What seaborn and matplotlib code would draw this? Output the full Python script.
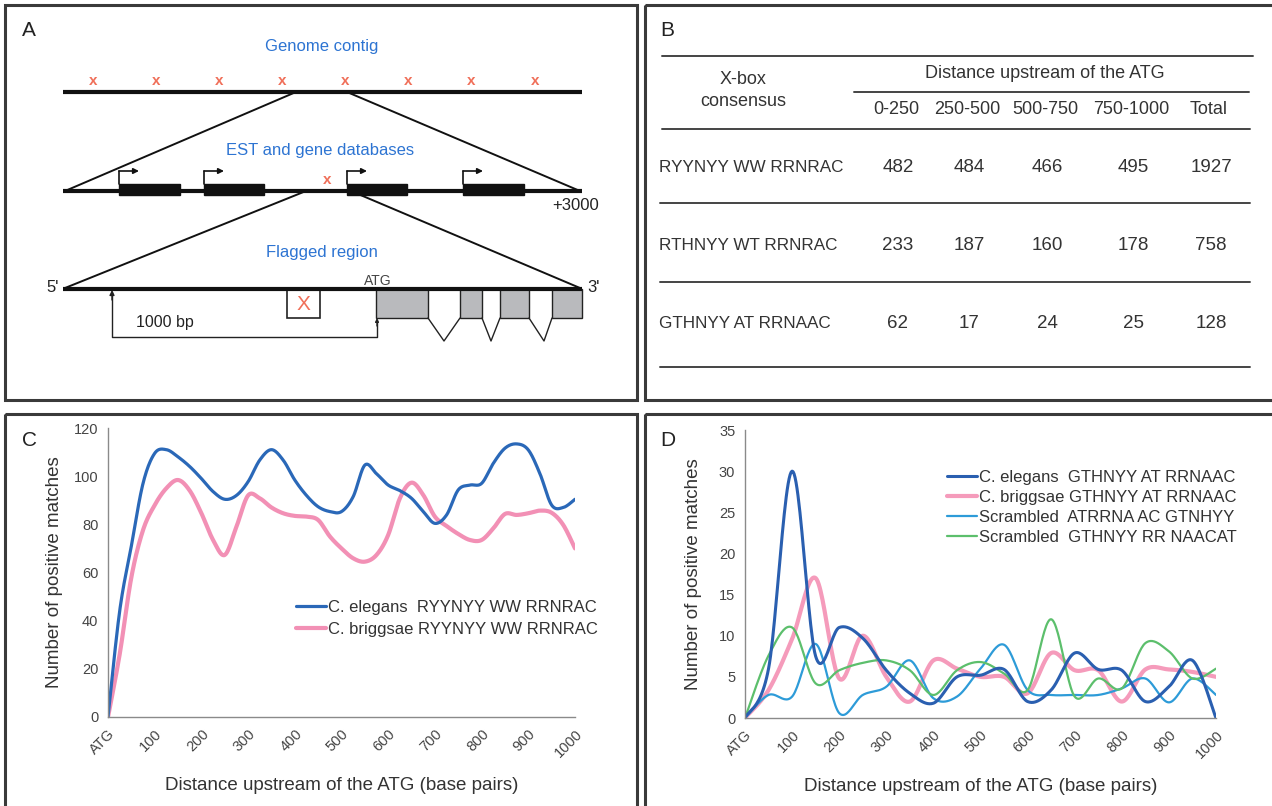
import numpy as np
import pandas as pd
import matplotlib
matplotlib.use("Agg")
import matplotlib.pyplot as plt
from matplotlib.patches import Rectangle
import seaborn as sns

# ---------------- data ----------------
# Panel B table
table_cols = ["0-250", "250-500", "500-750", "750-1000", "Total"]
table_rows = ["RYYNYY WW RRNRAC", "RTHNYY WT RRNRAC", "GTHNYY AT RRNAAC"]
row1_vals = [482, 484, 466, 495, 1927]
row2_vals = [233, 187, 160, 178, 758]
row3_vals = [62, 17, 24, 25, 128]

# Panel C (25 bp steps, 0..1000)
c_x = list(range(0, 1001, 25))
c_elegans_rr = [0, 44, 71, 97, 109.5, 111, 108, 104, 99, 93.6, 90.4, 92, 97.7, 106.7, 111,
                106.7, 98.4, 92, 87.3, 85.3, 85.3, 91.5, 104.6, 101, 96.3, 94, 90.8, 85.3,
                80.4, 83.9, 94.3, 96.3, 97, 105.3, 111.6, 113.4, 110.9, 101, 88, 87, 90.4]
c_briggsae_rr = [0, 26, 58, 77.6, 88, 95, 98.4, 94, 84.6, 73.5, 67.3, 79, 92, 90.8, 87,
                 84.6, 83.5, 83.2, 81.8, 75, 70, 65.9, 64.5, 67.3, 75.6, 90.8, 97.3, 92.2,
                 83.2, 79.3, 76, 73.5, 73.5, 78.3, 84.3, 83.9, 84.6, 85.7, 84.8, 79.7, 70]
c_labels = ["C. elegans  RYYNYY WW RRNRAC", "C. briggsae RYYNYY WW RRNRAC"]

# Panel D (50 bp steps, 0..1000)
d_x = list(range(0, 1001, 50))
d_elegans_gt = [0, 6, 30, 7.5, 11, 9.7, 5.8, 3, 1.8, 5, 5.2, 5.9, 2, 3.4, 7.9, 5.9, 5.8, 2,
                3.8, 7, 0]
d_briggsae_gt = [0, 3.4, 9.6, 17, 4.8, 10, 5, 2, 7, 6, 5, 5, 3, 7.9, 5.8, 5.8, 2, 5.9, 5.9,
                 5.6, 5]
d_scr1 = [0, 2.8, 2.6, 9, 0.6, 2.8, 3.8, 7, 2.4, 2.6, 6, 8.9, 3.4, 2.8, 2.8, 2.8, 3.6, 4.8,
          1.9, 4.8, 2.8]
d_scr2 = [0, 7.6, 11, 4.2, 5.8, 6.7, 7, 5.8, 2.8, 5.8, 6.8, 5.4, 3.4, 12, 2.6, 4.8, 3.6, 9.1,
          8.1, 4.8, 6]
d_labels = ["C. elegans  GTHNYY AT RRNAAC", "C. briggsae GTHNYY AT RRNAAC",
            "Scrambled  ATRRNA AC GTNHYY", "Scrambled  GTHNYY RR NAACAT"]

tick_vals = list(range(0, 1001, 50))
tick_text = ["ATG" if v == 0 else (str(v) if v % 100 == 0 else "") for v in tick_vals]

# ---------------- style ----------------
sns.set_theme(style="white")
plt.rcParams["font.family"] = ["Liberation Sans", "DejaVu Sans"]

W, H = 1272, 806
fig = plt.figure(figsize=(W / 100, H / 100), dpi=100)
fig.patch.set_facecolor("white")

ov = fig.add_axes([0, 0, 1, 1])
ov.set_xlim(0, W)
ov.set_ylim(H, 0)
ov.axis("off")

frame_col = "#3a3a3a"
for (x0, y0, x1, y1) in [(5, 5, 637, 400), (645, 5, 1290, 400), (5, 414, 637, 830), (645, 414, 1290, 830)]:
    ov.add_patch(Rectangle((x0, y0), x1 - x0, y1 - y0, fill=False, lw=2.2, ec=frame_col))

for lab, (x, y) in zip("ABCD", [(22, 31), (660, 31), (22, 440), (660, 440)]):
    ov.text(x, y, lab, fontsize=15, ha="left", va="center", color="#222")

# ---------------- Panel A diagram ----------------
blue_txt = "#2d74d2"
red_x = "#f0705a"
ov.text(322, 47, "Genome contig", color=blue_txt, fontsize=12, ha="center", va="center")
for xx in [93, 156, 219, 282, 345, 408, 471, 535]:
    ov.text(xx, 81, "x", color=red_x, fontsize=11, ha="center", va="center", fontweight="bold")
ov.plot([63, 582], [92, 92], color="#111", lw=3, solid_capstyle="butt")
ov.plot([296, 65], [92, 191], color="#111", lw=1.4)
ov.plot([347, 580], [92, 191], color="#111", lw=1.4)

ov.text(320, 151, "EST and gene databases", color=blue_txt, fontsize=12, ha="center", va="center")
ov.plot([63, 582], [191, 191], color="#111", lw=3, solid_capstyle="butt")
for (a, b) in [(119, 180), (204, 264), (347, 407), (463, 524)]:
    ov.add_patch(Rectangle((a, 184), b - a, 11, color="#111"))
    ov.plot([a, a], [184, 171], color="#111", lw=1.2)
    ov.annotate("", xy=(a + 20, 171), xytext=(a, 171),
                arrowprops=dict(arrowstyle="-|>", color="#111", lw=1.2, mutation_scale=8,
                                shrinkA=0, shrinkB=0))
ov.text(327, 180, "x", color=red_x, fontsize=11, ha="center", va="center", fontweight="bold")
ov.text(576, 205, "+3000", color="#222", fontsize=12, ha="center", va="center")
ov.plot([306, 65], [191, 288], color="#111", lw=1.4)
ov.plot([351, 580], [191, 288], color="#111", lw=1.4)

ov.text(322, 252, "Flagged region", color=blue_txt, fontsize=12, ha="center", va="center")
ov.text(53, 287, "5'", color="#222", fontsize=12, ha="center", va="center")
ov.text(593, 287, "3'", color="#222", fontsize=12, ha="center", va="center")
ov.text(378, 281, "ATG", color="#444", fontsize=10, ha="center", va="center")
for (a, b) in [(376, 428), (460, 482), (500, 529), (552, 582)]:
    ov.add_patch(Rectangle((a, 289), b - a, 29, fc="#b9babd", ec="#222", lw=1.0))
for (a, m, b) in [(428, 444, 460), (482, 491, 500), (529, 544, 552)]:
    ov.plot([a, m, b], [318, 341, 318], color="#222", lw=1.0)
ov.plot([63, 582], [289, 289], color="#111", lw=3, solid_capstyle="butt")
ov.add_patch(Rectangle((287, 290), 33, 28, fill=False, ec="#222", lw=1.2))
ov.text(303, 304, "X", color=red_x, fontsize=15, ha="center", va="center")
ov.plot([112, 112, 377, 377], [292, 337, 337, 320], color="#222", lw=1.0)
ov.annotate("", xy=(112, 290), xytext=(112, 300),
            arrowprops=dict(arrowstyle="-|>", color="#222", lw=1.0, mutation_scale=7,
                            shrinkA=0, shrinkB=0))
ov.annotate("", xy=(377, 318), xytext=(377, 326),
            arrowprops=dict(arrowstyle="-|>", color="#222", lw=1.0, mutation_scale=5,
                            shrinkA=0, shrinkB=0))
ov.text(165, 323, "1000 bp", color="#222", fontsize=11.5, ha="center", va="center")

# ---------------- Panel B table ----------------
tcol = "#333"
line_col = "#444"
ov.plot([662, 1253], [56, 56], color=line_col, lw=1.4)
ov.text(743, 79, "X-box", fontsize=13, ha="center", va="center", color=tcol)
ov.text(743, 101, "consensus", fontsize=13, ha="center", va="center", color=tcol)
ov.text(1045, 74, "Distance upstream of the ATG", fontsize=13, ha="center", va="center", color=tcol)
ov.plot([854, 1249], [92, 92], color=line_col, lw=1.4)
col_x = [896, 967, 1045, 1131, 1209]
for cx, ct in zip(col_x, table_cols):
    ov.text(cx, 109, ct, fontsize=13, ha="center", va="center", color=tcol)
ov.plot([662, 1250], [129, 129], color=line_col, lw=1.4)
row_y = [168, 245, 324]
line_y = [203, 282, 367]
for ry, ly, rl, vals in zip(row_y, line_y, table_rows, [row1_vals, row2_vals, row3_vals]):
    ov.text(659, ry, rl, fontsize=12.3, ha="left", va="center", color=tcol)
    for cx, v in zip(col_x, vals):
        ov.text(cx + 2, ry, str(v), fontsize=13.5, ha="center", va="center", color=tcol)
    ov.plot([660, 1250], [ly, ly], color=line_col, lw=1.4)


# ---------------- helpers ----------------
def smooth(xs, ys, n=24):
    P = np.column_stack([np.asarray(xs, float), np.asarray(ys, float)])
    out = []
    m = len(P)
    for i in range(m - 1):
        p0 = P[i - 1] if i > 0 else P[i]
        p1, p2 = P[i], P[i + 1]
        p3 = P[i + 2] if i + 2 < m else P[i + 1]
        c1 = p1 + (p2 - p0) / 6.0
        c2 = p2 - (p3 - p1) / 6.0
        t = np.linspace(0, 1, n, endpoint=False)[:, None]
        seg = ((1 - t) ** 3) * p1 + 3 * ((1 - t) ** 2) * t * c1 + 3 * (1 - t) * t ** 2 * c2 + t ** 3 * p2
        out.append(seg)
    out.append(P[-1:])
    arr = np.vstack(out)
    return pd.DataFrame({"x": arr[:, 0], "y": arr[:, 1]})


def style_axes(ax, ymax, ystep, ylabelpad):
    ax.set_facecolor("none")
    ax.set_xlim(0, 1000)
    ax.set_ylim(0, ymax)
    ax.margins(0)
    for s in ["top", "right"]:
        ax.spines[s].set_visible(False)
    for s in ["left", "bottom"]:
        ax.spines[s].set_color("#8a8a8a")
        ax.spines[s].set_linewidth(1.0)
    ax.set_yticks(np.arange(0, ymax + 0.1, ystep))
    ax.set_yticklabels([str(int(v)) for v in np.arange(0, ymax + 0.1, ystep)])
    ax.set_xticks(tick_vals)
    ax.set_xticklabels(tick_text, rotation=45, ha="right", rotation_mode="anchor")
    ax.tick_params(axis="both", which="major", direction="out", length=4, width=1,
                   color="#8a8a8a", labelsize=10.5, labelcolor="#444", pad=3)
    ax.set_xlabel("Distance upstream of the ATG (base pairs)", fontsize=13.5, color="#333", labelpad=12)
    ax.set_ylabel("Number of positive matches", fontsize=13.5, color="#333", labelpad=ylabelpad)
    ax.grid(False)


# ---------------- Panel C ----------------
axC = fig.add_axes([108 / W, 1 - 717 / H, 467 / W, 289 / H])
col_el = "#2a68b8"
col_br = "#f290b5"
sns.lineplot(data=smooth(c_x, c_briggsae_rr), x="x", y="y", sort=False, estimator=None,
             color=col_br, lw=3.0, ax=axC)
sns.lineplot(data=smooth(c_x, c_elegans_rr), x="x", y="y", sort=False, estimator=None,
             color=col_el, lw=2.3, ax=axC)
style_axes(axC, 120, 20, 8)
hC = [plt.Line2D([], [], color=col_el, lw=2.3), plt.Line2D([], [], color=col_br, lw=3.0)]
axC.legend(hC, c_labels, loc="upper left", bbox_to_anchor=(296 / W, 1 - 600 / H),
           bbox_transform=fig.transFigure, frameon=False, fontsize=12,
           handlelength=1.8, handletextpad=0.12, borderpad=0, borderaxespad=0,
           labelspacing=0.42, labelcolor="#333")

# ---------------- Panel D ----------------
axD = fig.add_axes([745 / W, 1 - 718 / H, 471 / W, 288 / H])
col_el_d = "#2a5fb0"
col_br_d = "#f59bbb"
col_s1 = "#2d9bd8"
col_s2 = "#5cbf6c"
sns.lineplot(data=smooth(d_x, d_briggsae_gt), x="x", y="y", sort=False, estimator=None,
             color=col_br_d, lw=3.0, ax=axD)
sns.lineplot(data=smooth(d_x, d_scr1), x="x", y="y", sort=False, estimator=None,
             color=col_s1, lw=1.6, ax=axD)
sns.lineplot(data=smooth(d_x, d_scr2), x="x", y="y", sort=False, estimator=None,
             color=col_s2, lw=1.6, ax=axD)
sns.lineplot(data=smooth(d_x, d_elegans_gt), x="x", y="y", sort=False, estimator=None,
             color=col_el_d, lw=2.2, ax=axD)
style_axes(axD, 35, 5, 12)
hD = [plt.Line2D([], [], color=col_el_d, lw=2.2), plt.Line2D([], [], color=col_br_d, lw=3.0),
      plt.Line2D([], [], color=col_s1, lw=1.6), plt.Line2D([], [], color=col_s2, lw=1.6)]
axD.legend(hD, d_labels, loc="upper left", bbox_to_anchor=(947 / W, 1 - 470 / H),
           bbox_transform=fig.transFigure, frameon=False, fontsize=12,
           handlelength=1.8, handletextpad=0.12, borderpad=0, borderaxespad=0,
           labelspacing=0.3, labelcolor="#333")

fig.savefig("out.png", dpi=100, facecolor="white")
